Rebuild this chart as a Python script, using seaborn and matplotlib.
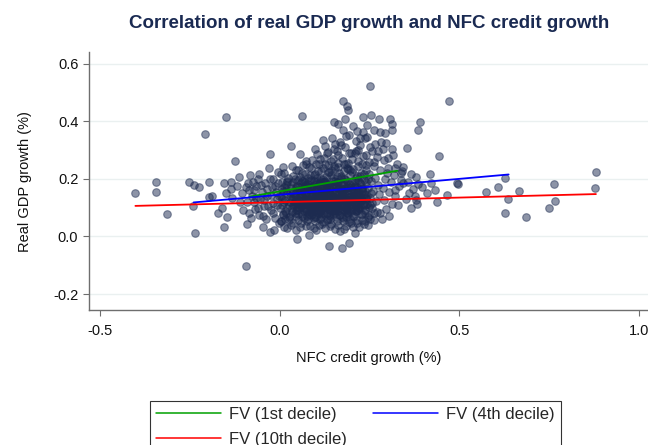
import numpy as np
import pandas as pd
import seaborn as sns
import matplotlib.pyplot as plt

# Scatter points (NFC credit growth, real GDP growth)
left_tail = [(-0.403, 0.151), (-0.344, 0.190), (-0.344, 0.155), (-0.314, 0.078), (-0.253, 0.189),
             (-0.239, 0.180), (-0.225, 0.170), (-0.243, 0.104), (-0.236, 0.013), (-0.208, 0.356),
             (-0.197, 0.190), (-0.196, 0.136), (-0.190, 0.139), (-0.171, 0.082), (-0.160, 0.099),
             (-0.146, 0.067), (-0.154, 0.034), (-0.156, 0.184), (-0.149, 0.150), (-0.149, 0.414),
             (-0.137, 0.190), (-0.137, 0.165), (-0.134, 0.133), (-0.126, 0.261), (-0.113, 0.208),
             (-0.118, 0.175), (-0.110, 0.120), (-0.105, 0.150), (-0.102, 0.090), (-0.094, -0.101)]

mid_left = [(-0.091, 0.042), (-0.081, 0.063), (-0.082, 0.213), (-0.088, 0.185), (-0.085, 0.160),
            (-0.078, 0.140), (-0.072, 0.118), (-0.068, 0.095), (-0.065, 0.175), (-0.060, 0.200),
            (-0.058, 0.075), (-0.055, 0.130), (-0.050, 0.155), (-0.047, 0.031), (-0.045, 0.105),
            (-0.040, 0.185), (-0.038, 0.060), (-0.035, 0.140), (-0.030, 0.239), (-0.027, 0.286),
            (-0.027, 0.015), (-0.025, 0.090), (-0.022, 0.170), (-0.020, 0.115), (-0.018, 0.200),
            (-0.015, 0.023), (-0.012, 0.065), (-0.010, 0.155), (-0.008, 0.130), (-0.005, 0.185),
            (-0.003, 0.045), (0.000, 0.100), (0.003, 0.215), (0.009, 0.241), (0.005, 0.165),
            (0.008, 0.075), (-0.095, 0.170), (-0.090, 0.120), (-0.087, 0.080), (-0.076, 0.190),
            (-0.071, 0.160), (-0.066, 0.135), (-0.062, 0.100), (-0.057, 0.215), (-0.052, 0.180),
            (-0.048, 0.070), (-0.043, 0.125), (-0.037, 0.165), (-0.033, 0.105), (-0.028, 0.200),
            (-0.024, 0.145), (-0.019, 0.080), (-0.014, 0.175), (-0.009, 0.110), (-0.006, 0.225),
            (-0.002, 0.140), (0.002, 0.055), (0.006, 0.190)]

core_a = [(0.012, 0.032), (0.025, 0.058), (0.018, 0.081), (0.033, 0.097), (0.006, 0.108),
          (0.028, 0.118), (0.015, 0.127), (0.038, 0.136), (0.021, 0.146), (0.009, 0.158),
          (0.031, 0.167), (0.017, 0.179), (0.036, 0.188), (0.024, 0.203), (0.011, 0.221),
          (0.034, 0.246), (0.029, 0.072), (0.004, 0.141), (0.039, 0.112), (0.020, 0.193),
          (0.031, 0.314)]

core_b = [(0.048, -0.008), (0.061, 0.418), (0.055, 0.286), (0.044, 0.024), (0.058, 0.047),
          (0.066, 0.063), (0.052, 0.078), (0.072, 0.089), (0.047, 0.101), (0.063, 0.109),
          (0.077, 0.118), (0.054, 0.126), (0.069, 0.133), (0.043, 0.141), (0.075, 0.149),
          (0.059, 0.157), (0.067, 0.166), (0.049, 0.174), (0.078, 0.183), (0.062, 0.192),
          (0.056, 0.205), (0.071, 0.217), (0.045, 0.229), (0.064, 0.248), (0.074, 0.262),
          (0.050, 0.115), (0.068, 0.098), (0.076, 0.071), (0.057, 0.138), (0.073, 0.176)]

core_c = [(0.081, 0.006), (0.102, 0.021), (0.091, 0.266), (0.104, 0.286), (0.112, 0.269),
          (0.119, 0.335), (0.085, 0.035), (0.097, 0.052), (0.113, 0.061), (0.088, 0.074),
          (0.106, 0.083), (0.094, 0.092), (0.117, 0.099), (0.083, 0.106), (0.101, 0.113),
          (0.109, 0.121), (0.090, 0.128), (0.115, 0.135), (0.098, 0.142), (0.086, 0.151),
          (0.107, 0.158), (0.118, 0.167), (0.093, 0.175), (0.111, 0.184), (0.082, 0.193),
          (0.103, 0.202), (0.096, 0.214), (0.114, 0.226), (0.087, 0.238), (0.108, 0.251),
          (0.099, 0.305), (0.116, 0.078), (0.092, 0.118), (0.105, 0.145), (0.084, 0.165),
          (0.110, 0.040)]

core_d = [(0.127, 0.315), (0.154, 0.321), (0.152, 0.398), (0.138, -0.034), (0.125, 0.028),
          (0.143, 0.044), (0.131, 0.057), (0.156, 0.066), (0.122, 0.079), (0.148, 0.087),
          (0.136, 0.095), (0.159, 0.104), (0.128, 0.111), (0.144, 0.119), (0.133, 0.126),
          (0.151, 0.134), (0.124, 0.142), (0.140, 0.149), (0.157, 0.157), (0.129, 0.165),
          (0.146, 0.174), (0.135, 0.182), (0.153, 0.191), (0.121, 0.200), (0.142, 0.212),
          (0.137, 0.224), (0.155, 0.237), (0.126, 0.252), (0.149, 0.268), (0.132, 0.288),
          (0.145, 0.340), (0.158, 0.297), (0.155, 0.026), (0.139, 0.072), (0.147, 0.138),
          (0.123, 0.188), (0.158, 0.210)]

core_e = [(0.163, 0.390), (0.182, 0.407), (0.177, 0.471), (0.186, 0.454), (0.191, 0.440),
          (0.172, -0.039), (0.192, -0.022), (0.168, 0.019), (0.184, 0.037), (0.175, 0.052),
          (0.196, 0.061), (0.165, 0.073), (0.188, 0.082), (0.179, 0.091), (0.162, 0.099),
          (0.194, 0.107), (0.171, 0.115), (0.186, 0.124), (0.166, 0.132), (0.198, 0.140),
          (0.176, 0.148), (0.183, 0.156), (0.164, 0.165), (0.192, 0.173), (0.173, 0.182),
          (0.187, 0.191), (0.169, 0.202), (0.195, 0.214), (0.178, 0.226), (0.161, 0.241),
          (0.189, 0.256), (0.174, 0.272), (0.197, 0.289), (0.181, 0.309), (0.167, 0.328),
          (0.193, 0.352), (0.176, 0.371), (0.185, 0.066), (0.170, 0.160), (0.190, 0.235)]

core_f = [(0.210, 0.013), (0.205, 0.032), (0.231, 0.413), (0.215, 0.045), (0.228, 0.058),
          (0.207, 0.070), (0.236, 0.081), (0.219, 0.092), (0.202, 0.103), (0.233, 0.112),
          (0.212, 0.121), (0.225, 0.130), (0.204, 0.139), (0.238, 0.148), (0.217, 0.157),
          (0.229, 0.166), (0.209, 0.176), (0.222, 0.186), (0.235, 0.197), (0.214, 0.209),
          (0.227, 0.221), (0.203, 0.234), (0.239, 0.247), (0.218, 0.262), (0.232, 0.278),
          (0.211, 0.296), (0.224, 0.318), (0.237, 0.343), (0.216, 0.365), (0.208, 0.290),
          (0.221, 0.100)]

core_g = [(0.250, 0.522), (0.255, 0.423), (0.275, 0.407), (0.245, 0.040), (0.262, 0.058),
          (0.248, 0.074), (0.271, 0.086), (0.256, 0.099), (0.243, 0.111), (0.268, 0.123),
          (0.252, 0.134), (0.277, 0.146), (0.259, 0.157), (0.246, 0.168), (0.273, 0.179),
          (0.254, 0.191), (0.266, 0.203), (0.249, 0.216), (0.279, 0.229), (0.261, 0.244),
          (0.247, 0.260), (0.270, 0.276), (0.257, 0.295), (0.264, 0.321), (0.244, 0.345),
          (0.278, 0.362), (0.280, 0.083)]

core_h = [(0.288, 0.304), (0.307, 0.409), (0.313, 0.390), (0.313, 0.371), (0.285, 0.062),
          (0.297, 0.095), (0.312, 0.114), (0.291, 0.128), (0.322, 0.141), (0.303, 0.153),
          (0.286, 0.167), (0.331, 0.176), (0.309, 0.188), (0.294, 0.201), (0.318, 0.213),
          (0.339, 0.226), (0.301, 0.239), (0.326, 0.252), (0.289, 0.265), (0.315, 0.281),
          (0.336, 0.197), (0.344, 0.242), (0.305, 0.072), (0.328, 0.110), (0.297, 0.325),
          (0.320, 0.160), (0.342, 0.185), (0.350, 0.130), (0.299, 0.220)]

core_upper = [(0.142, 0.262), (0.161, 0.281), (0.183, 0.252), (0.201, 0.268), (0.219, 0.301),
              (0.241, 0.283), (0.262, 0.259), (0.151, 0.303), (0.171, 0.318), (0.192, 0.291),
              (0.212, 0.331), (0.231, 0.362), (0.251, 0.309), (0.272, 0.298), (0.203, 0.382),
              (0.223, 0.342), (0.184, 0.349), (0.243, 0.388), (0.262, 0.371), (0.281, 0.328),
              (0.122, 0.272), (0.101, 0.253), (0.133, 0.292), (0.163, 0.256), (0.302, 0.271),
              (0.311, 0.302), (0.322, 0.239), (0.338, 0.221), (0.292, 0.358)]

core_dense = [(0.035, 0.084), (0.042, 0.121), (0.047, 0.162), (0.053, 0.097), (0.058, 0.185),
              (0.061, 0.131), (0.066, 0.112), (0.070, 0.152), (0.074, 0.095), (0.079, 0.128),
              (0.083, 0.171), (0.087, 0.086), (0.090, 0.140), (0.093, 0.108), (0.097, 0.158),
              (0.100, 0.125), (0.103, 0.093), (0.106, 0.178), (0.108, 0.132), (0.111, 0.105),
              (0.114, 0.149), (0.117, 0.116), (0.120, 0.083), (0.122, 0.162), (0.125, 0.123),
              (0.128, 0.145), (0.131, 0.101), (0.134, 0.171), (0.137, 0.113), (0.140, 0.134),
              (0.143, 0.088), (0.146, 0.155), (0.149, 0.122), (0.152, 0.102), (0.155, 0.178),
              (0.158, 0.128), (0.161, 0.146), (0.164, 0.091), (0.167, 0.118), (0.170, 0.137),
              (0.173, 0.163), (0.176, 0.107), (0.179, 0.127), (0.182, 0.145), (0.185, 0.096),
              (0.188, 0.169), (0.191, 0.118), (0.194, 0.138), (0.197, 0.157), (0.200, 0.113),
              (0.203, 0.128), (0.206, 0.152), (0.209, 0.094), (0.212, 0.139), (0.215, 0.171),
              (0.218, 0.117), (0.221, 0.145), (0.224, 0.102), (0.227, 0.133), (0.230, 0.158),
              (0.038, 0.150), (0.045, 0.070), (0.051, 0.195), (0.057, 0.108), (0.063, 0.077),
              (0.068, 0.171), (0.073, 0.141), (0.078, 0.062), (0.082, 0.119), (0.086, 0.196),
              (0.091, 0.079), (0.095, 0.131), (0.099, 0.067), (0.102, 0.188), (0.107, 0.099),
              (0.112, 0.171), (0.116, 0.068), (0.119, 0.143), (0.124, 0.104), (0.127, 0.192),
              (0.132, 0.083), (0.136, 0.152), (0.141, 0.062), (0.145, 0.107), (0.150, 0.181),
              (0.154, 0.081), (0.159, 0.114), (0.163, 0.188), (0.168, 0.075), (0.172, 0.151),
              (0.177, 0.092), (0.181, 0.199), (0.186, 0.109), (0.190, 0.078), (0.195, 0.183),
              (0.199, 0.094), (0.204, 0.167), (0.208, 0.121), (0.213, 0.088), (0.217, 0.195),
              (0.222, 0.125), (0.226, 0.078), (0.232, 0.149), (0.236, 0.108), (0.240, 0.135)]

core_dense2 = [(0.031, 0.041), (0.072, 0.037), (0.118, 0.044), (0.163, 0.039), (0.197, 0.046),
               (0.234, 0.042), (0.015, 0.061), (0.052, 0.058), (0.094, 0.063), (0.133, 0.059),
               (0.176, 0.064), (0.214, 0.057), (0.251, 0.062), (0.008, 0.079), (0.041, 0.083),
               (0.081, 0.077), (0.109, 0.081), (0.147, 0.078), (0.188, 0.084), (0.229, 0.079),
               (0.262, 0.082), (0.021, 0.098), (0.059, 0.102), (0.089, 0.097), (0.126, 0.103),
               (0.157, 0.099), (0.183, 0.101), (0.217, 0.097), (0.247, 0.103), (0.011, 0.118),
               (0.046, 0.122), (0.075, 0.117), (0.104, 0.121), (0.135, 0.118), (0.165, 0.123),
               (0.193, 0.119), (0.226, 0.122), (0.258, 0.117), (0.027, 0.139), (0.063, 0.142),
               (0.097, 0.138), (0.121, 0.141), (0.152, 0.137), (0.178, 0.142), (0.207, 0.139),
               (0.244, 0.141), (0.018, 0.161), (0.054, 0.158), (0.085, 0.162), (0.116, 0.157),
               (0.143, 0.161), (0.174, 0.158), (0.203, 0.162), (0.237, 0.159), (0.032, 0.181),
               (0.071, 0.178), (0.101, 0.182), (0.131, 0.179), (0.162, 0.183), (0.196, 0.178),
               (0.225, 0.181), (0.043, 0.199), (0.079, 0.203), (0.115, 0.198), (0.147, 0.202),
               (0.178, 0.199), (0.213, 0.203), (0.245, 0.200), (0.061, 0.221), (0.098, 0.218),
               (0.133, 0.222), (0.166, 0.219), (0.202, 0.223), (0.233, 0.218), (0.082, 0.241),
               (0.121, 0.238), (0.151, 0.243), (0.186, 0.239), (0.219, 0.244)]

core_dense3 = [(0.044, 0.091), (0.067, 0.087), (0.091, 0.093), (0.113, 0.089), (0.139, 0.092),
               (0.161, 0.088), (0.187, 0.093), (0.211, 0.089), (0.037, 0.109), (0.062, 0.113),
               (0.086, 0.108), (0.111, 0.112), (0.138, 0.109), (0.159, 0.113), (0.185, 0.108),
               (0.209, 0.112), (0.232, 0.109), (0.049, 0.131), (0.073, 0.127), (0.099, 0.132),
               (0.124, 0.128), (0.148, 0.133), (0.173, 0.127), (0.198, 0.131), (0.223, 0.128),
               (0.041, 0.149), (0.066, 0.153), (0.093, 0.148), (0.118, 0.152), (0.142, 0.147),
               (0.168, 0.152), (0.192, 0.148), (0.219, 0.152), (0.053, 0.171), (0.077, 0.167),
               (0.104, 0.172), (0.129, 0.168), (0.156, 0.172), (0.181, 0.167), (0.207, 0.171),
               (0.069, 0.189), (0.094, 0.192), (0.125, 0.188), (0.149, 0.192), (0.175, 0.188),
               (0.201, 0.191)]

core_dense4 = [(0.020, 0.028), (0.055, 0.033), (0.095, 0.029), (0.140, 0.035), (0.180, 0.027),
               (0.220, 0.031), (0.003, 0.052), (0.038, 0.048), (0.077, 0.053), (0.121, 0.049),
               (0.158, 0.054), (0.193, 0.050), (0.238, 0.052), (0.026, 0.068), (0.061, 0.072),
               (0.101, 0.069), (0.136, 0.073), (0.172, 0.068), (0.203, 0.072), (0.245, 0.069),
               (0.014, 0.088), (0.049, 0.093), (0.082, 0.089), (0.124, 0.094), (0.153, 0.090),
               (0.199, 0.087), (0.236, 0.092), (0.026, 0.108), (0.071, 0.111), (0.096, 0.107),
               (0.129, 0.112), (0.171, 0.109), (0.214, 0.110), (0.251, 0.108), (0.007, 0.129),
               (0.035, 0.126), (0.084, 0.131), (0.111, 0.127), (0.155, 0.130), (0.187, 0.126),
               (0.241, 0.130), (0.029, 0.151), (0.059, 0.147), (0.106, 0.152), (0.133, 0.148),
               (0.164, 0.153), (0.211, 0.149), (0.253, 0.152), (0.012, 0.170), (0.046, 0.173),
               (0.091, 0.169), (0.138, 0.174), (0.185, 0.171), (0.228, 0.169), (0.021, 0.189),
               (0.065, 0.192), (0.113, 0.191), (0.159, 0.188), (0.209, 0.192), (0.241, 0.189),
               (0.037, 0.209), (0.083, 0.212), (0.128, 0.208), (0.171, 0.211), (0.224, 0.209),
               (0.052, 0.231), (0.105, 0.228), (0.143, 0.232), (0.196, 0.229), (0.241, 0.231),
               (0.072, 0.252), (0.135, 0.249), (0.178, 0.253), (0.229, 0.250)]

right_tail = [(0.354, 0.306), (0.366, 0.215), (0.380, 0.208), (0.386, 0.183), (0.380, 0.127),
              (0.383, 0.114), (0.391, 0.398), (0.385, 0.371), (0.417, 0.218), (0.422, 0.187),
              (0.433, 0.162), (0.438, 0.121), (0.442, 0.280), (0.465, 0.144), (0.472, 0.471),
              (0.492, 0.187), (0.495, 0.182), (0.574, 0.155), (0.608, 0.171), (0.627, 0.204),
              (0.627, 0.080), (0.636, 0.131), (0.665, 0.157), (0.686, 0.067), (0.749, 0.099),
              (0.766, 0.123), (0.763, 0.182), (0.878, 0.167), (0.881, 0.225), (0.360, 0.150),
              (0.372, 0.165), (0.358, 0.190), (0.365, 0.098), (0.375, 0.140), (0.395, 0.170),
              (0.410, 0.150)]

# Fitted values by decile: endpoints of each line
fv_labels = ["FV (1st decile)", "FV (4th decile)", "FV (10th decile)"]
fv_colors = ["#00a000", "#0000ff", "#ff0000"]
fv_x = [[-0.084, 0.327], [-0.240, 0.637], [-0.402, 0.880]]
fv_y = [[0.138, 0.228], [0.118, 0.215], [0.106, 0.147]]

pts = (left_tail + mid_left + core_a + core_b + core_c + core_d + core_e + core_f
       + core_g + core_h + core_upper + core_dense + core_dense2 + core_dense3
       + core_dense4 + right_tail)
df = pd.DataFrame(pts, columns=["credit", "gdp"])

sns.set_theme(style="white")
plt.rcParams["font.family"] = ["Liberation Sans", "DejaVu Sans"]

fig = plt.figure(figsize=(6.48, 4.45), dpi=100)
ax = fig.add_axes([0.138, 0.303, 0.862, 0.58])

navy = "#1d2b50"
sns.scatterplot(data=df, x="credit", y="gdp", ax=ax, s=30, color=navy,
                alpha=0.5, edgecolor=navy, linewidth=0.8, zorder=2)

handles = {}
for lab, col, xs, ys in zip(fv_labels, fv_colors, fv_x, fv_y):
    line_df = pd.DataFrame({"x": xs, "y": ys})
    sns.lineplot(data=line_df, x="x", y="y", ax=ax, color=col, linewidth=1.3, zorder=3)
    handles[lab] = plt.Line2D([], [], color=col, linewidth=1.1, label=lab)

ax.set_xlim(-0.53, 1.025)
ax.set_ylim(-0.256, 0.64)
ax.set_xticks([-0.5, 0.0, 0.5, 1.0])
ax.set_xticklabels(["-0.5", "0.0", "0.5", "1.0"])
ax.set_yticks([-0.2, 0.0, 0.2, 0.4, 0.6])
ax.set_yticklabels(["-0.2", "0.0", "0.2", "0.4", "0.6"])
ax.yaxis.grid(True, color="#eaf0f0", linewidth=1.0, zorder=0)
ax.xaxis.grid(False)
ax.set_axisbelow(True)

for side in ["top", "right"]:
    ax.spines[side].set_visible(False)
for side in ["left", "bottom"]:
    ax.spines[side].set_color("#6e6e6e")
    ax.spines[side].set_linewidth(1.0)
ax.tick_params(axis="both", which="both", direction="out", length=4, width=0.8,
               color="#6e6e6e", labelsize=10.5, labelcolor="#111111", pad=4)
ax.tick_params(axis="x", bottom=True, pad=6)
ax.tick_params(axis="y", left=True)

ax.set_xlabel("NFC credit growth (%)", fontsize=10.5, color="#111111", labelpad=9)
ax.set_ylabel("Real GDP growth (%)", fontsize=10.5, color="#111111", labelpad=15)
ax.set_title("Correlation of real GDP growth and NFC credit growth", fontsize=13.5,
             fontweight="bold", color="#1a2a52", pad=17)

# row-wise order in a 2-column legend: 1st, 4th / 10th
order = ["FV (1st decile)", "FV (10th decile)", "FV (4th decile)"]
leg = fig.legend(handles=[handles[k] for k in order], loc="upper left",
                 bbox_to_anchor=(0.2315, 0.099), ncol=2, fontsize=12, frameon=True,
                 fancybox=False, handlelength=3.9, handletextpad=0.5, columnspacing=1.55,
                 labelspacing=0.6, borderpad=0.35, borderaxespad=0.0)
leg.get_frame().set_edgecolor("black")
leg.get_frame().set_linewidth(0.8)

fig.savefig("out.png", dpi=100)
